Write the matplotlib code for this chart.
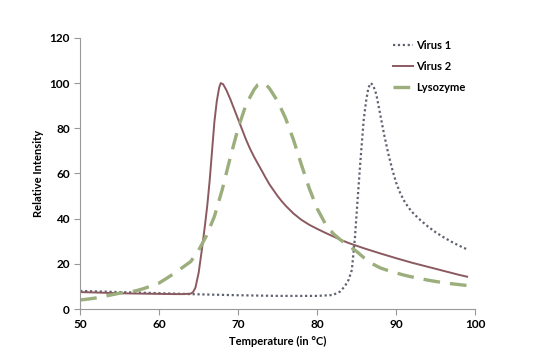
import matplotlib.pyplot as plt

# values
v1_t = [50, 55, 60, 65, 70, 75, 80, 82, 82.9, 83.5, 84, 84.4, 84.8, 85.1, 85.4, 85.7, 85.9, 86.2,
        86.5, 86.8, 87.1, 87.5, 88, 88.5, 89, 89.5, 90, 90.5, 91, 91.5, 92, 93, 94, 95, 96, 97, 98, 99]
v1_y = [8, 7.5, 7, 6.5, 6.1, 5.8, 5.8, 6.2, 7.7, 10, 13, 17.3, 32, 47, 61.6, 75, 83.7, 92,
        98, 100, 99, 95, 86, 77, 69, 62, 56, 51.5, 48, 45.3, 43, 39.6, 36.6, 34, 31.8, 29.8, 28, 26.4]

v2_t = [50, 52, 54, 56, 58, 60, 62, 63, 64, 64.3, 64.6, 65, 65.4, 65.8, 66.1, 66.4, 66.7, 67,
        67.3, 67.6, 67.8, 68.1, 68.5, 69, 69.5, 70, 70.5, 71, 71.5, 72, 72.5, 73, 73.5, 74, 74.5,
        75, 75.5, 76, 77, 78, 79, 80, 81, 82, 83, 84, 86, 88, 90, 92, 94, 96, 98, 99]
v2_y = [7.5, 7.3, 7.1, 6.9, 6.8, 6.7, 6.6, 6.6, 6.8, 7.5, 9.5, 16, 26, 37, 46, 57, 70, 83,
        92, 98, 100, 99.5, 97, 93, 88.5, 84, 79.5, 75, 71, 67.5, 64.3, 61.2, 58, 55, 52.5,
        50, 47.8, 45.8, 42.3, 39.5, 37.3, 35.5, 33.8, 32.2, 30.6, 29.2, 26.8, 24.6, 22.5, 20.5, 18.7, 16.9, 15.1, 14.3]

lys_t = [50, 51, 52, 53, 54, 55, 56, 57, 58, 59, 60, 61, 62, 63, 64, 65, 66, 67, 68, 69, 70,
         71, 72, 72.5, 73, 73.5, 74, 75, 76, 77, 78, 79, 80, 81, 82, 83, 84, 85, 86, 87, 88,
         89, 90, 91, 92, 93, 94, 95, 96, 97, 98, 99]
lys_y = [4, 4.4, 4.9, 5.6, 6.3, 7, 7.5, 8, 9, 10.2, 11.5, 13.7, 16, 18.5, 21, 26, 32.5, 41,
         53, 67, 80, 90.5, 97, 99.3, 100, 99.5, 97.5, 92, 84.5, 75, 64, 53.5, 44.5, 38, 33.5,
         30.5, 28, 25.5, 22.5, 20, 18.2, 17, 16, 15, 14.2, 13.5, 12.8, 12.2, 11.7, 11.2, 10.8, 10.4]

plt.rcParams['font.family'] = ['Lato', 'DejaVu Sans']
plt.rcParams['font.weight'] = 'bold'

fig = plt.figure(figsize=(5.38, 3.61), dpi=100)
ax = fig.add_axes([0.149, 0.144, 0.734, 0.751])

ax.plot(v1_t, v1_y, color='#5f6370', lw=1.6, ls=(0, (1, 1.2)), label='Virus 1')
ax.plot(v2_t, v2_y, color='#8a5a60', lw=1.4, label='Virus 2')
ax.plot(lys_t, lys_y, color='#9bae7c', lw=2.4, ls=(0, (5, 3)), label='Lysozyme')

ax.set_xlim(50, 100)
ax.set_ylim(0, 120)
ax.set_xticks(range(50, 101, 10))
ax.set_yticks(range(0, 121, 20))
ax.tick_params(labelsize=8.5, length=4, color='#999999', width=0.8)
for s in ['top', 'right']:
    ax.spines[s].set_visible(False)
for s in ['left', 'bottom']:
    ax.spines[s].set_color('#999999')
    ax.spines[s].set_linewidth(0.8)

ax.set_xlabel('Temperature (in °C)', fontsize=8, fontweight='bold')
ax.set_ylabel('Relative Intensity', fontsize=8, fontweight='bold')

ax.legend(loc='upper right', bbox_to_anchor=(1.0, 1.03), frameon=False,
          prop={'size': 8, 'weight': 'bold'},
          handlelength=1.8, handletextpad=0.2, labelspacing=0.9)

fig.savefig('out.png', dpi=100)
